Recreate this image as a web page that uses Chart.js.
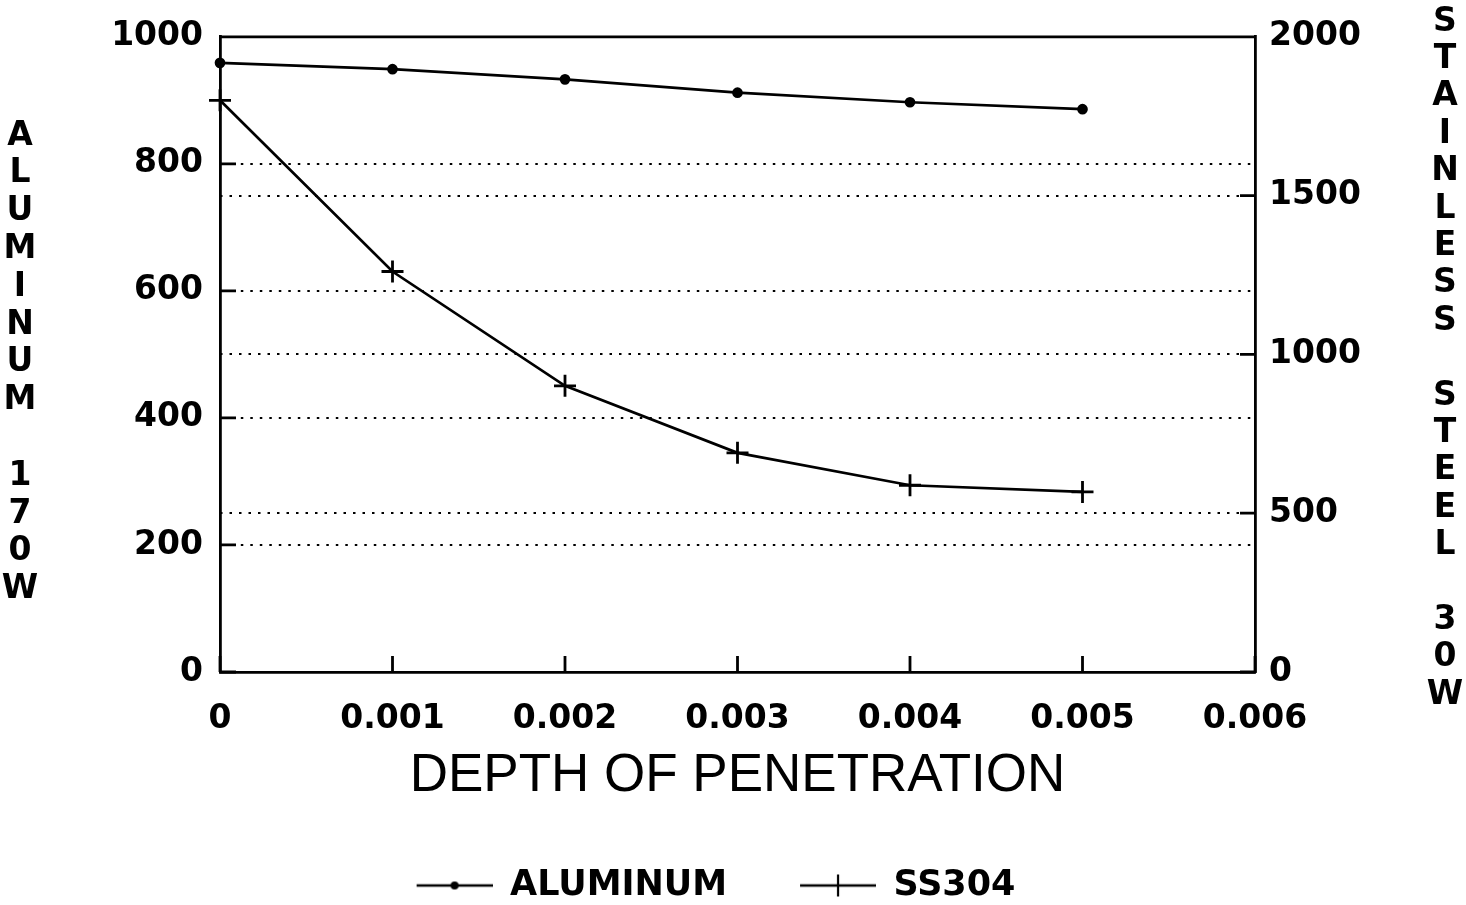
<!DOCTYPE html>
<html>
<head>
<meta charset="utf-8">
<script src="https://cdn.jsdelivr.net/npm/chart.js@4/dist/chart.umd.min.js"></script>
<style>
  html, body { margin: 0; padding: 0; background: #fff; }
</style>
</head>
<body>
<canvas id="depthChart" width="1466" height="905"></canvas>
<script>
// depth of penetration vs. aluminum (170W) and stainless steel (30W)
const depth = [0, 0.001, 0.002, 0.003, 0.004, 0.005];
const aluminum = [959, 949, 933, 912, 897, 886];
const ss304 = [1800, 1261, 901, 690, 588, 567];
const xTickLabels = ['0', '0.001', '0.002', '0.003', '0.004', '0.005', '0.006'];
const leftTitle = 'ALUMINUM 170W';
const rightTitle = 'STAINLESS STEEL 30W';

const tickFont = { family: '"DejaVu Sans"', weight: 'bold', size: 33 };
const dots = [2.5, 7];

// little line+marker swatches for the legend
function legendIcon(kind) {
  const c = document.createElement('canvas');
  c.width = 129; c.height = 30;
  const g = c.getContext('2d');
  g.strokeStyle = '#000'; g.fillStyle = '#000'; g.lineWidth = 2.5;
  g.beginPath(); g.moveTo(53, 15); g.lineTo(129, 15); g.stroke();
  if (kind === 'dot') {
    g.beginPath(); g.arc(91, 15, 4, 0, Math.PI * 2); g.fill();
  } else {
    g.lineWidth = 2.2;
    g.beginPath(); g.moveTo(91, 4); g.lineTo(91, 26); g.stroke();
  }
  return c;
}
const icons = [legendIcon('dot'), legendIcon('cross')];

// plot frame top, inward tick marks and the stacked axis titles
const frameTicks = {
  id: 'frameTicks',
  afterDraw(chart) {
    const { ctx, chartArea: a, scales } = chart;
    ctx.save();
    ctx.strokeStyle = '#000';
    ctx.lineWidth = 2.8;
    ctx.beginPath();
    ctx.moveTo(a.left, a.top); ctx.lineTo(a.right, a.top);
    scales.y.ticks.forEach(t => {
      const p = scales.y.getPixelForValue(t.value);
      ctx.moveTo(a.left, p); ctx.lineTo(a.left + 16, p);
    });
    scales.y1.ticks.forEach(t => {
      const p = scales.y1.getPixelForValue(t.value);
      ctx.moveTo(a.right, p); ctx.lineTo(a.right - 15, p);
    });
    scales.x.ticks.forEach(t => {
      const p = scales.x.getPixelForValue(t.value);
      ctx.moveTo(p, a.bottom); ctx.lineTo(p, a.bottom - 16);
    });
    ctx.stroke();

    ctx.font = 'bold 33px "DejaVu Sans"';
    ctx.fillStyle = '#000';
    ctx.textAlign = 'center';
    ctx.textBaseline = 'middle';
    [...leftTitle].forEach((ch, i) => ctx.fillText(ch, 20, 136 + i * 37.8));
    [...rightTitle].forEach((ch, i) => ctx.fillText(ch, 1445, 22 + i * 37.4));
    ctx.restore();
  }
};

new Chart(document.getElementById('depthChart'), {
  type: 'line',
  data: {
    datasets: [
      {
        label: 'ALUMINUM',
        data: depth.map((d, i) => ({ x: d, y: aluminum[i] })),
        yAxisID: 'y',
        borderColor: '#000',
        backgroundColor: '#000',
        borderWidth: 2.7,
        pointStyle: 'circle',
        pointRadius: 4,
        pointBackgroundColor: '#000',
        tension: 0,
        clip: false
      },
      {
        label: 'SS304',
        data: depth.map((d, i) => ({ x: d, y: ss304[i] })),
        yAxisID: 'y1',
        borderColor: '#000',
        backgroundColor: '#000',
        borderWidth: 2.7,
        pointStyle: 'cross',
        pointRadius: 11,
        pointBorderWidth: 2.8,
        tension: 0,
        clip: false
      }
    ]
  },
  options: {
    responsive: false,
    animation: false,
    events: [],
    layout: { padding: { top: 34, left: 0, right: 87, bottom: -8 } },
    scales: {
      x: {
        type: 'linear',
        min: 0,
        max: 0.006,
        ticks: {
          stepSize: 0.001,
          padding: 28,
          color: '#000',
          font: tickFont,
          maxRotation: 0,
          callback: (v, i) => xTickLabels[i]
        },
        grid: { display: false, drawTicks: false },
        border: { color: '#000', width: 2.8 },
        title: {
          display: true,
          text: 'DEPTH OF PENETRATION',
          color: '#000',
          font: { family: '"Liberation Sans"', size: 53 },
          padding: { top: 0, bottom: 40 }
        },
        afterFit: s => { s.height = 176; }
      },
      y: {
        position: 'left',
        min: 0,
        max: 1000,
        ticks: {
          stepSize: 200, padding: 17, color: '#000', font: tickFont,
          format: { useGrouping: false }
        },
        grid: {
          drawTicks: false,
          lineWidth: 2,
          color: c => (c.tick && c.tick.value > 0 && c.tick.value < 1000) ? '#000' : 'rgba(0,0,0,0)'
        },
        border: { color: '#000', width: 2.8, dash: dots },
        afterFit: s => { s.width = 220; }
      },
      y1: {
        position: 'right',
        min: 0,
        max: 2000,
        ticks: {
          stepSize: 500, padding: 14, color: '#000', font: tickFont,
          format: { useGrouping: false }
        },
        grid: {
          drawTicks: false,
          lineWidth: 2,
          color: c => (c.tick && c.tick.value > 0 && c.tick.value < 2000) ? '#000' : 'rgba(0,0,0,0)'
        },
        border: { color: '#000', width: 2.8, dash: dots },
        afterFit: s => { s.width = 124; }
      }
    },
    plugins: {
      tooltip: { enabled: false },
      legend: {
        position: 'bottom',
        labels: {
          usePointStyle: true,
          pointStyleWidth: 129,
          padding: 20,
          color: '#000',
          font: { family: '"DejaVu Sans"', weight: 'bold', size: 35 },
          generateLabels: chart =>
            Chart.defaults.plugins.legend.labels.generateLabels(chart).map((item, i) =>
              Object.assign(item, { pointStyle: icons[i] }))
        }
      }
    }
  },
  plugins: [frameTicks]
});
</script>
</body>
</html>
